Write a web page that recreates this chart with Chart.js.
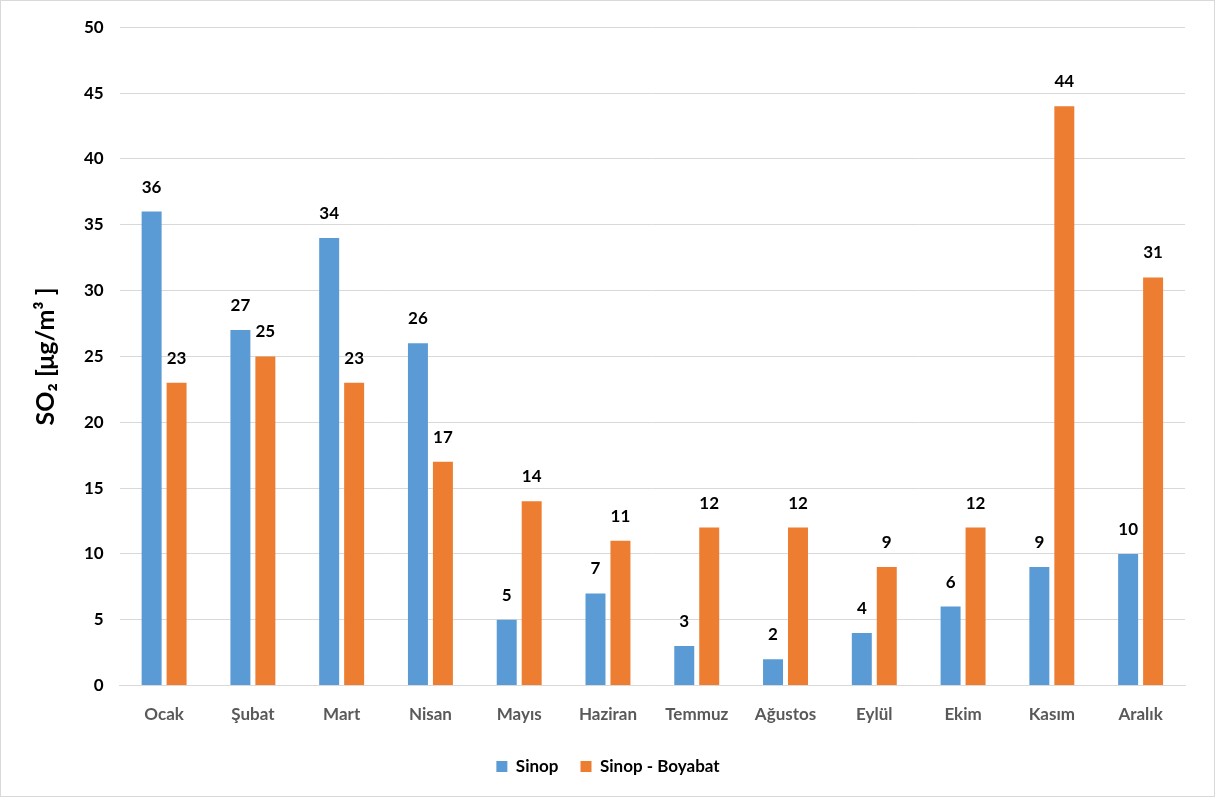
<!DOCTYPE html>
<html>
<head>
<meta charset="utf-8">
<script src="https://cdn.jsdelivr.net/npm/chart.js@4"></script>
<style>
    body { margin: 0; background: #fff; }
    #wrap { position: relative; width: 1213px; height: 795px; border: 1px solid #d9d9d9; }
</style>
</head>
<body>
<div id="wrap"><canvas id="so2Chart"></canvas></div>
<script>
var months = ['Ocak', 'Şubat', 'Mart', 'Nisan', 'Mayıs', 'Haziran', 'Temmuz', 'Ağustos', 'Eylül', 'Ekim', 'Kasım', 'Aralık'];
var sinop = [36, 27, 34, 26, 5, 7, 3, 2, 4, 6, 9, 10];
var boyabat = [23, 25, 23, 17, 14, 11, 12, 12, 9, 12, 44, 31];
var yTicks = [0, 5, 10, 15, 20, 25, 30, 35, 40, 45, 50];

// bold numbers above each bar
var barLabels = {
    id: 'barLabels',
    afterDatasetsDraw: function (chart) {
        var ctx = chart.ctx;
        ctx.save();
        ctx.font = 'bold 17px Lato';
        ctx.fillStyle = '#000';
        ctx.textAlign = 'center';
        ctx.textBaseline = 'bottom';
        chart.data.datasets.forEach(function (ds, i) {
            chart.getDatasetMeta(i).data.forEach(function (bar, j) {
                ctx.fillText(ds.data[j], bar.x, bar.y - 16);
            });
        });
        ctx.restore();
    }
};

document.addEventListener('DOMContentLoaded', function () {
    var ctx = document.getElementById('so2Chart').getContext('2d');
    new Chart(ctx, {
        type: 'bar',
        data: {
            labels: months,
            datasets: [
                {
                    label: 'Sinop',
                    backgroundColor: '#5B9BD5',
                    data: sinop
                },
                {
                    label: 'Sinop - Boyabat',
                    backgroundColor: '#ED7D31',
                    data: boyabat
                }
            ]
        },
        options: {
            responsive: true,
            maintainAspectRatio: false,
            animation: false,
            categoryPercentage: 0.5625,
            barPercentage: 0.8,
            layout: {
                padding: { left: 30, right: 29, top: 24, bottom: 11 }
            },
            scales: {
                x: {
                    grid: { display: false },
                    border: { color: '#d9d9d9', width: 1 },
                    ticks: {
                        color: '#595959',
                        padding: 11,
                        font: { family: 'Lato', size: 17, weight: 'bold' }
                    }
                },
                y: {
                    min: 0,
                    max: 50,
                    afterBuildTicks: function (axis) {
                        axis.ticks = yTicks.map(function (v) { return { value: v }; });
                    },
                    title: {
                        display: true,
                        text: 'SO₂ [μg/m³ ]',
                        color: '#000',
                        padding: { top: 0, bottom: 7 },
                        font: { family: 'Lato', size: 25, weight: 'bold' }
                    },
                    ticks: {
                        color: '#000',
                        padding: 16,
                        font: { family: 'Lato', size: 17, weight: 'bold' }
                    },
                    grid: {
                        color: '#d9d9d9',
                        lineWidth: 1,
                        drawTicks: false
                    },
                    border: { display: false }
                }
            },
            plugins: {
                legend: {
                    display: true,
                    position: 'bottom',
                    labels: {
                        color: '#000',
                        boxWidth: 11,
                        boxHeight: 11,
                        padding: 22,
                        font: { family: 'Lato', size: 17, weight: 'bold' }
                    }
                },
                tooltip: { enabled: false }
            }
        },
        plugins: [barLabels]
    });
});
</script>
</body>
</html>
